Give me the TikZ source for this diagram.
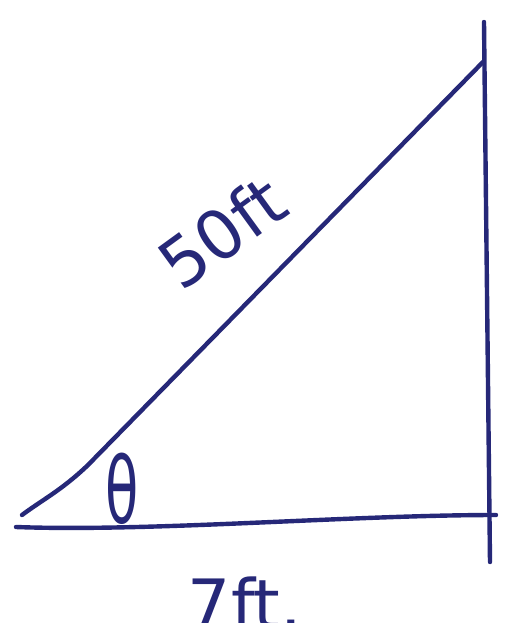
\documentclass[tikz,border=0pt]{standalone}
\usepackage{fontspec}
\setmainfont{DejaVu Sans}
\definecolor{ink}{RGB}{38,40,120}
\begin{document}
\begin{tikzpicture}[x=0.5pt,y=-0.5pt,
  pen/.style={draw=ink,line width=2.2pt,line cap=round},
  lbl/.style={text=ink,font=\fontsize{34}{34}\selectfont}]
\fill[white] (0,0) rectangle (505,623);
\useasboundingbox (0,0) rectangle (505,623);
\coordinate (A) at (16,527);
\coordinate (H) at (22,515);
\coordinate (B) at (483,62);
\coordinate (T) at (484,22);
\coordinate (V) at (490,562);
\coordinate (R) at (496,515);
\draw[pen] (H) .. controls (42,500) and (62,490) .. (88,465) -- (B);
\draw[pen] (T) -- (V);
\draw[pen] (A) .. controls (150,532) and (350,515) .. (R);
\node[lbl,rotate=36] (h) at (222,232) {50ft};
\node[lbl,anchor=south,inner sep=1pt] (th) at (122,527) {\scalebox{0.8}[1.35]{θ}};
\node[lbl] (b) at (245,603) {7ft.};
\end{tikzpicture}
\end{document}
